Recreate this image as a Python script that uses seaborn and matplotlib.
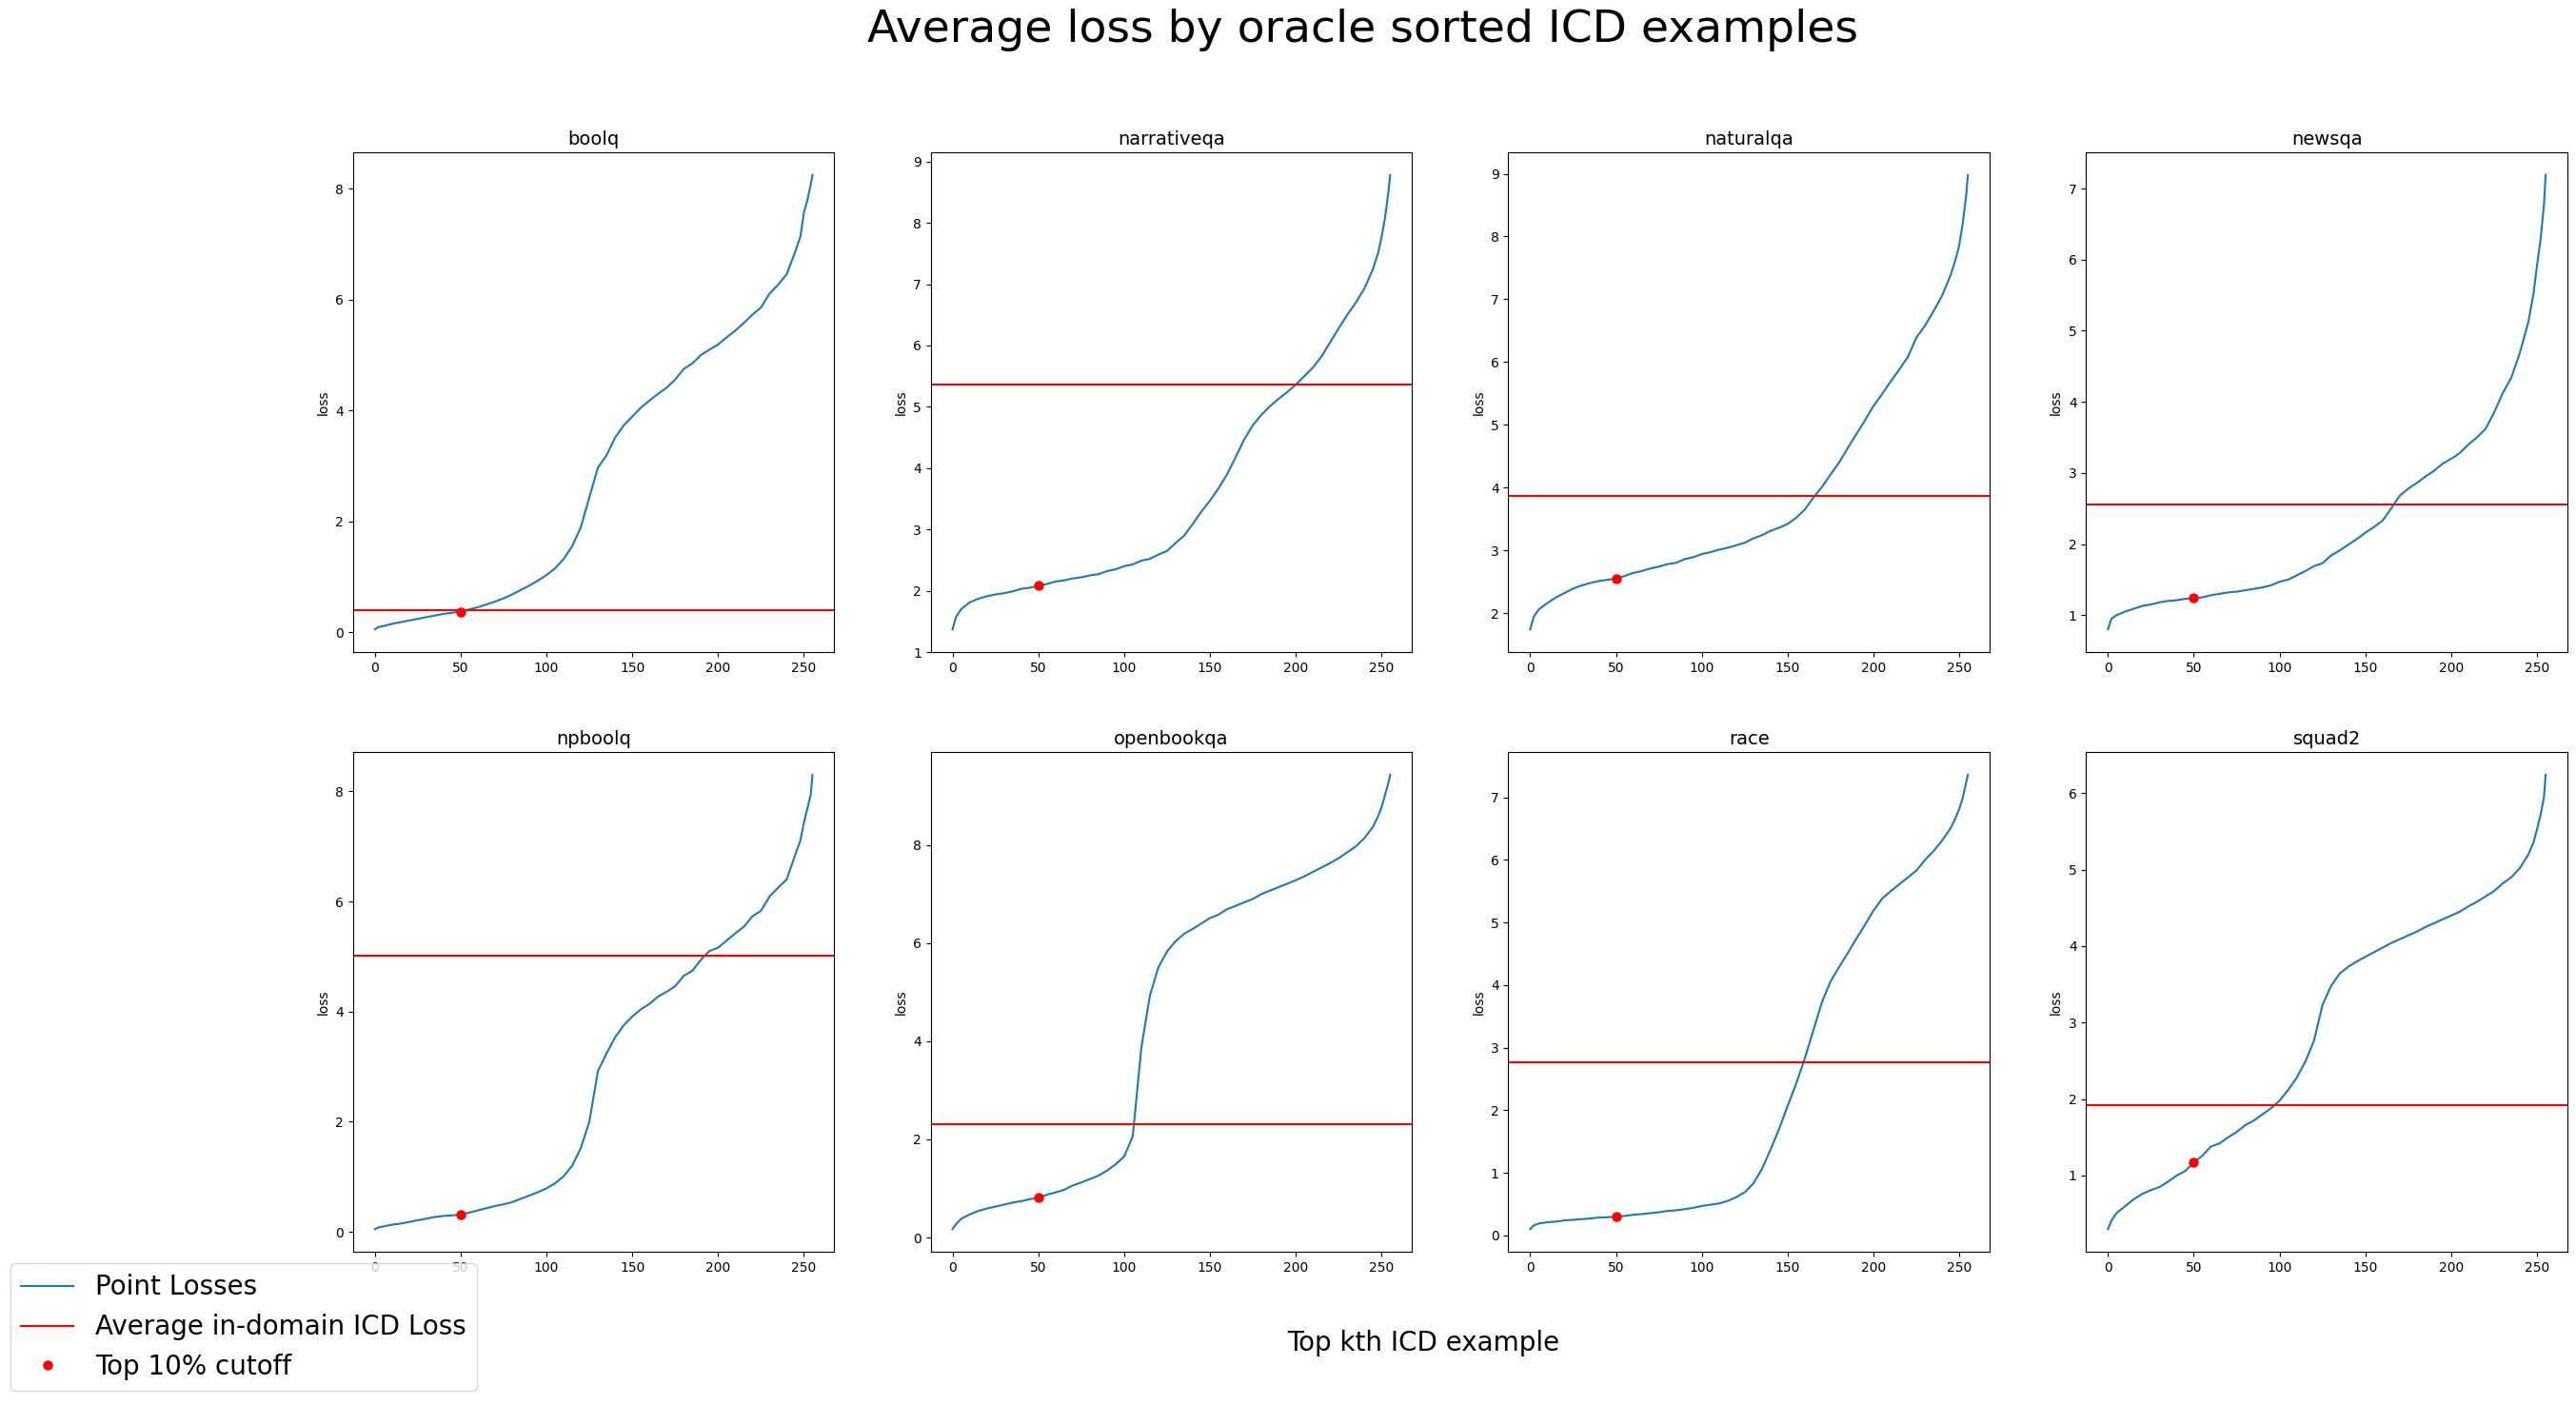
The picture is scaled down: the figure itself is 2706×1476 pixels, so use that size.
import matplotlib
matplotlib.use("Agg")
import matplotlib.pyplot as plt
import seaborn as sns
from matplotlib import font_manager
from matplotlib.lines import Line2D

# Rank of the ICD example (x axis), shared by all panels
ranks = [0, 2] + list(range(5, 250, 5)) + [248, 250, 252, 254, 255]
ranks = sorted(set(ranks))

datasets = ["boolq", "narrativeqa", "naturalqa", "newsqa",
            "npboolq", "openbookqa", "race", "squad2"]

# Sorted point losses, one list per dataset (same order as ranks)
boolq_loss = [0.05, 0.09, 0.11, 0.15, 0.18, 0.21, 0.24, 0.27, 0.30, 0.33, 0.35, 0.37,
              0.41, 0.45, 0.50, 0.55, 0.61, 0.68, 0.76, 0.84, 0.93, 1.03, 1.15, 1.32,
              1.55, 1.89, 2.43, 2.97, 3.19, 3.51, 3.73, 3.89, 4.05, 4.18, 4.30, 4.41,
              4.56, 4.75, 4.85, 5.00, 5.10, 5.19, 5.32, 5.44, 5.58, 5.73, 5.86, 6.11,
              6.27, 6.46, 6.87, 7.14, 7.57, 7.79, 8.08, 8.25]
narrativeqa_loss = [1.37, 1.57, 1.70, 1.81, 1.87, 1.91, 1.94, 1.96, 1.99, 2.03, 2.05, 2.08,
                    2.11, 2.15, 2.17, 2.20, 2.22, 2.25, 2.27, 2.32, 2.35, 2.40, 2.43, 2.49,
                    2.52, 2.59, 2.65, 2.78, 2.90, 3.09, 3.29, 3.47, 3.67, 3.90, 4.18, 4.47,
                    4.70, 4.87, 5.01, 5.13, 5.24, 5.36, 5.50, 5.64, 5.82, 6.05, 6.28, 6.50,
                    6.70, 6.93, 7.25, 7.51, 7.77, 8.08, 8.51, 8.78]
naturalqa_loss = [1.74, 1.94, 2.06, 2.16, 2.25, 2.32, 2.39, 2.44, 2.48, 2.51, 2.53, 2.55,
                  2.59, 2.64, 2.67, 2.71, 2.74, 2.78, 2.80, 2.86, 2.89, 2.94, 2.97, 3.01,
                  3.04, 3.08, 3.12, 3.19, 3.24, 3.31, 3.36, 3.42, 3.52, 3.65, 3.84, 4.01,
                  4.21, 4.40, 4.63, 4.85, 5.07, 5.30, 5.49, 5.69, 5.88, 6.08, 6.39, 6.58,
                  6.81, 7.06, 7.39, 7.65, 7.87, 8.21, 8.66, 8.98]
newsqa_loss = [0.80, 0.95, 1.00, 1.05, 1.09, 1.13, 1.15, 1.18, 1.20, 1.21, 1.23, 1.24,
               1.25, 1.28, 1.30, 1.32, 1.33, 1.35, 1.37, 1.39, 1.42, 1.47, 1.50, 1.56,
               1.62, 1.69, 1.73, 1.84, 1.91, 1.99, 2.07, 2.16, 2.24, 2.33, 2.50, 2.68,
               2.78, 2.86, 2.95, 3.03, 3.13, 3.20, 3.28, 3.40, 3.50, 3.62, 3.85, 4.12,
               4.34, 4.69, 5.13, 5.53, 5.92, 6.27, 6.76, 7.19]
npboolq_loss = [0.05, 0.08, 0.10, 0.13, 0.15, 0.18, 0.21, 0.24, 0.27, 0.29, 0.30, 0.31,
                0.35, 0.39, 0.43, 0.47, 0.50, 0.54, 0.60, 0.66, 0.72, 0.79, 0.88, 1.01,
                1.20, 1.52, 2.00, 2.92, 3.24, 3.53, 3.75, 3.91, 4.04, 4.14, 4.27, 4.36,
                4.46, 4.65, 4.74, 4.94, 5.10, 5.16, 5.29, 5.42, 5.54, 5.73, 5.83, 6.09,
                6.25, 6.40, 6.85, 7.11, 7.43, 7.68, 7.94, 8.30]
openbookqa_loss = [0.17, 0.27, 0.38, 0.47, 0.54, 0.59, 0.63, 0.67, 0.71, 0.74, 0.78, 0.81,
                   0.87, 0.92, 0.97, 1.06, 1.12, 1.19, 1.26, 1.36, 1.49, 1.65, 2.06, 3.86,
                   4.93, 5.51, 5.83, 6.04, 6.19, 6.29, 6.40, 6.51, 6.58, 6.69, 6.76, 6.83,
                   6.90, 7.00, 7.07, 7.14, 7.21, 7.28, 7.36, 7.45, 7.54, 7.63, 7.73, 7.85,
                   7.97, 8.14, 8.37, 8.59, 8.77, 9.02, 9.27, 9.43]
race_loss = [0.10, 0.16, 0.19, 0.21, 0.22, 0.24, 0.25, 0.26, 0.27, 0.285, 0.29, 0.30,
             0.31, 0.33, 0.34, 0.355, 0.37, 0.39, 0.40, 0.42, 0.44, 0.47, 0.49, 0.51,
             0.55, 0.61, 0.69, 0.83, 1.06, 1.37, 1.70, 2.07, 2.43, 2.83, 3.28, 3.73,
             4.06, 4.29, 4.51, 4.74, 4.96, 5.19, 5.38, 5.50, 5.61, 5.72, 5.83, 6.00,
             6.14, 6.31, 6.51, 6.68, 6.82, 6.99, 7.24, 7.36]
squad2_loss = [0.30, 0.41, 0.51, 0.60, 0.69, 0.76, 0.81, 0.85, 0.92, 1.00, 1.06, 1.17,
               1.26, 1.38, 1.42, 1.50, 1.57, 1.66, 1.72, 1.80, 1.88, 1.98, 2.12, 2.28,
               2.49, 2.76, 3.23, 3.48, 3.64, 3.73, 3.80, 3.86, 3.92, 3.98, 4.04, 4.09,
               4.14, 4.19, 4.25, 4.30, 4.35, 4.40, 4.45, 4.52, 4.58, 4.65, 4.72, 4.82,
               4.90, 5.02, 5.20, 5.36, 5.53, 5.71, 5.94, 6.24]

point_losses = [boolq_loss, narrativeqa_loss, naturalqa_loss, newsqa_loss,
                npboolq_loss, openbookqa_loss, race_loss, squad2_loss]

# Average in-domain ICD loss per dataset
avg_icd_loss = [0.39, 5.36, 3.86, 2.55, 5.02, 2.30, 2.76, 1.92]

# Top 10% cutoff rank
cutoff_rank = 50

fig, axes = plt.subplots(2, 4, figsize=(27.06, 14.76), dpi=100)
fig.subplots_adjust(left=0.137, right=0.9967, top=0.8916, bottom=0.109,
                    wspace=0.2, hspace=0.2)

for ax, name, losses, avg in zip(axes.flat, datasets, point_losses, avg_icd_loss):
    sns.lineplot(x=ranks, y=losses, ax=ax, color="tab:blue", linewidth=1.5)
    ax.axhline(avg, color="red", linewidth=1.5)
    cut_val = losses[ranks.index(cutoff_rank)]
    ax.plot([cutoff_rank], [cut_val], "o", color="red", markersize=6.5)
    ax.set_title(name, fontsize=14)
    ax.set_ylabel("loss", fontsize=10)
    ax.set_xlabel("")
    ax.set_xticks([0, 50, 100, 150, 200, 250])

fig.suptitle("Average loss by oracle sorted ICD examples", fontsize=34,
             x=0.529, y=0.994)
fig.text(0.5525, 0.044, "Top kth ICD example", fontsize=20,
         ha="center", va="center")

# Legend font: narrow face if available
names = {f.name for f in font_manager.fontManager.ttflist}
if "Liberation Sans Narrow" in names:
    leg_font = {"family": "Liberation Sans Narrow", "size": 26}
    spacing = 0.2
else:
    leg_font = {"family": "DejaVu Sans", "size": 20}
    spacing = 0.5

handles = [
    Line2D([], [], color="tab:blue", linewidth=1.5),
    Line2D([], [], color="red", linewidth=1.5),
    Line2D([], [], color="red", marker="o", linestyle="none", markersize=6.5),
]
labels = ["Point Losses", "Average in-domain ICD Loss", "Top 10% cutoff"]
fig.legend(handles, labels, loc="lower left", bbox_to_anchor=(0.004, 0.01),
           borderaxespad=0, prop=leg_font, labelspacing=spacing)

fig.savefig("out.png", dpi=100)
